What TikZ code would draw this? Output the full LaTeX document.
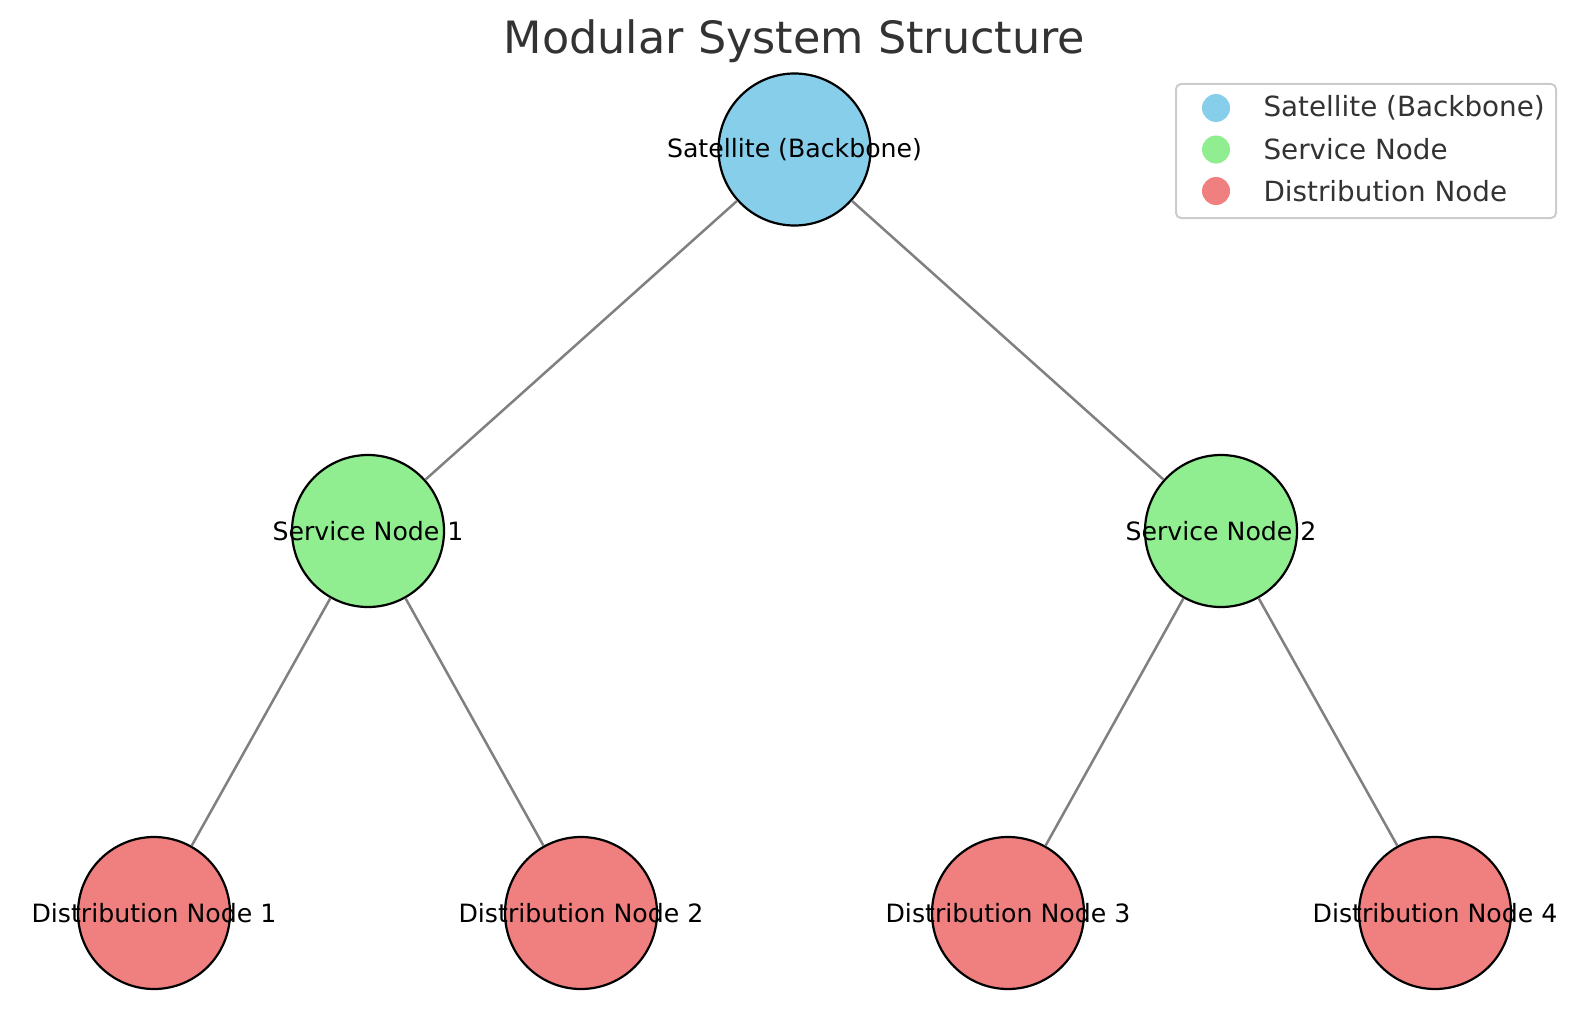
\documentclass[tikz,border=0pt]{standalone}
\usepackage{fontspec}
\setmainfont{DejaVu Sans}
\usetikzlibrary{positioning}

\definecolor{skyblue}{HTML}{87CEEB}
\definecolor{lightgreen}{HTML}{90EE90}
\definecolor{lightcoral}{HTML}{F08080}
\definecolor{darktext}{HTML}{333333}
\definecolor{framegray}{HTML}{CCCCCC}

\tikzset{
	treenode/.style={circle,draw=black,line width=2.2pt,minimum size=152pt,inner sep=0pt},
	nodelabel/.style={font=\fontsize{25.2}{30}\selectfont,text=black},
	link/.style={draw=gray,line width=2.5pt},
	keydot/.style={circle,minimum size=28pt,inner sep=0pt},
	keytext/.style={anchor=west,font=\fontsize{27.8}{33}\selectfont,text=darktext}
}

\begin{document}
\begin{tikzpicture}[x=1pt,y=-1pt]
	
	\useasboundingbox (0,0) rectangle (1589,1014);
	
	% title
	\node[anchor=base,font=\fontsize{44.5}{53}\selectfont,text=darktext] (title) at (794.5,53.5) {Modular System Structure};
	
	% tree
	\node[treenode,fill=skyblue,label={[nodelabel]center:Satellite (Backbone)}] (sat) at (794.5,149.5) {};
	
	\node[treenode,fill=lightgreen,label={[nodelabel]center:Service Node 1}] (s1) at (368,531) {};
	\node[treenode,fill=lightgreen,label={[nodelabel]center:Service Node 2}] (s2) at (1221,531) {};
	
	\foreach \i/\x in {1/154,2/581,3/1008,4/1435}
	{
		\node[treenode,fill=lightcoral,label={[nodelabel]center:Distribution Node \i}] (d\i) at (\x,913) {};
	}
	
	\draw[link] (sat) -- (s1);
	\draw[link] (sat) -- (s2);
	\draw[link] (s1) -- (d1);
	\draw[link] (s1) -- (d2);
	\draw[link] (s2) -- (d3);
	\draw[link] (s2) -- (d4);
	
	% legend
	\node[draw=framegray,fill=white,line width=2pt,rounded corners=5pt,minimum width=380pt,minimum height=134pt,inner sep=0pt] (legend) at (1366,151) {};
	
	\node[keydot,fill=skyblue] (k1) at (1216,108) {};
	\node[keydot,fill=lightgreen] (k2) at (1216,149.5) {};
	\node[keydot,fill=lightcoral] (k3) at (1216,191) {};
	
	\node[keytext] (t1) at (1260,108) {Satellite (Backbone)};
	\node[keytext] (t2) at (1260,149.5) {Service Node};
	\node[keytext] (t3) at (1260,191) {Distribution Node};
	
\end{tikzpicture}
\end{document}
